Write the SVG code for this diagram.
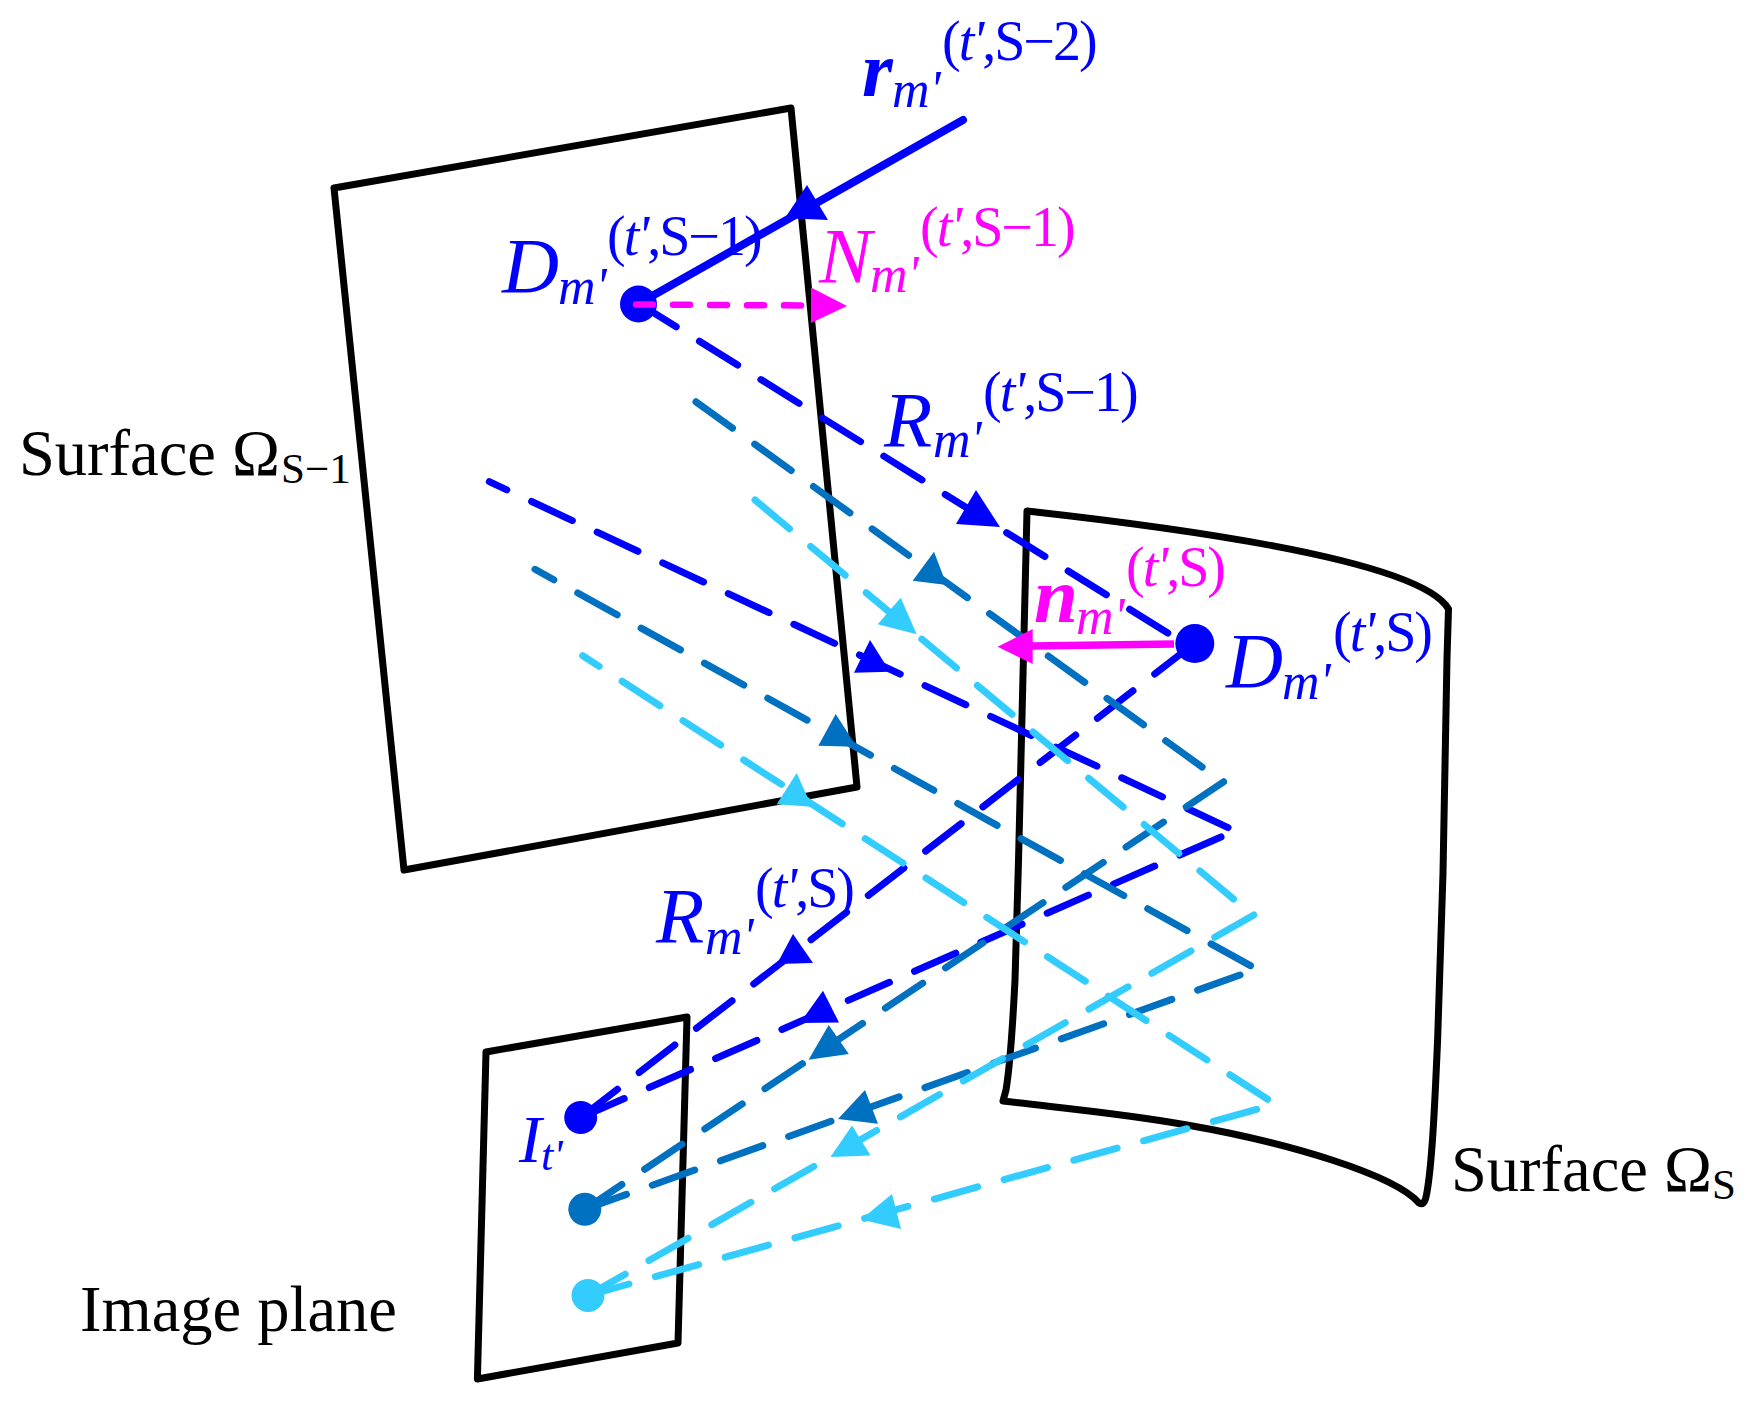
<svg xmlns="http://www.w3.org/2000/svg" width="1760" height="1402" viewBox="0 0 1760 1402">
<style>
text{font-family:"Liberation Serif","Times New Roman",serif}
.big{font-size:64.5px;fill:#000}
.sub{font-size:43px;fill:#000}
.m{font-size:79px;font-style:italic}
.mb{font-size:79px;font-style:italic;font-weight:bold}
.s{font-size:56px;letter-spacing:-2px}
.sm{font-size:52px;font-style:italic}
.i{font-style:italic}
.blue{fill:#0000ff}
.mag{fill:#ff00ff}
.surf{fill:none;stroke:#000;stroke-width:7;stroke-linejoin:round}
.ray{fill:none;stroke-width:7;stroke-linecap:round;stroke-dasharray:45 27.4}
.b{stroke:#0000ff}.t{stroke:#0070c0}.l{stroke:#33ccff}
.fb{fill:#0000ff}.ft{fill:#0070c0}.fl{fill:#33ccff}.fm{fill:#ff00ff}
</style>
<rect width="1760" height="1402" fill="#fff"/>
<g id="surface-s1"><path class="surf" d="M334 188L791 108L857 787L404 870Z"/></g>
<g id="surface-s"><path class="surf" d="M1027 511C1180 528 1420 560 1448.5 609L1447 658L1443 873L1437.6 1040C1435 1100 1432 1170 1426 1197Q1424 1206 1419 1203C1395 1175 1290 1143 1187 1125C1120 1113 1060 1108 1003 1101L1006 1090C1011 1060 1013 1020 1015 980C1020 820 1024 650 1027 511Z"/></g>
<g id="image-plane"><path class="surf" d="M486 1052L687 1017L678 1343L477.4 1379Z"/></g>
<g id="connectors">
<line x1="963" y1="120" x2="638" y2="304" stroke="#0000ff" stroke-width="8" stroke-linecap="round"/>
<polygon class="fb" points="807,185 785,218 828,220"/>
<line class="ray b" x1="638" y1="303" x2="1195" y2="650"/>
<polygon class="fb" points="976,490 956,524 1000,527"/>
<line class="ray b" x1="1190.3" y1="646.5" x2="581" y2="1117.5"/>
<polygon class="fb" points="793,934 777,964 813,963"/>
<line class="ray b" x1="489.3" y1="481.7" x2="1229" y2="828" stroke-dashoffset="25.7"/>
<polygon class="fb" points="870,640 854,672.7 890,671.7"/>
<line class="ray b" x1="1221" y1="837" x2="581" y2="1117.5"/>
<polygon class="fb" points="823,990.7 800,1023 839,1022.5"/>
<line class="ray t" x1="696" y1="401.8" x2="1224" y2="782.8"/>
<polygon class="ft" points="934,551.7 912.7,580.7 946.7,585"/>
<line class="ray t" x1="1223.6" y1="781.8" x2="584.8" y2="1209.3"/>
<polygon class="ft" points="828.7,1025 808.6,1059.8 848.8,1054"/>
<line class="ray t" x1="535" y1="569.3" x2="1251" y2="966" stroke-dashoffset="23.5"/>
<polygon class="ft" points="835.7,714 818.3,745.7 856.7,746.7"/>
<line class="ray t" x1="1240" y1="975" x2="584.8" y2="1209.3"/>
<polygon class="ft" points="865,1090 838,1119 878,1123.7"/>
<line class="ray l" x1="755" y1="500" x2="1233.5" y2="899"/>
<polygon class="fl" points="900.7,597.7 877.7,624.3 916.7,634.3"/>
<line class="ray l" x1="1253.8" y1="915" x2="588" y2="1295.4"/>
<polygon class="fl" points="852,1125.5 830.5,1157 870.6,1155.5"/>
<line class="ray l" x1="582.7" y1="655.7" x2="1267.7" y2="1099.3" stroke-dashoffset="25.4"/>
<polygon class="fl" points="796.7,773 776.7,804.3 811.7,806.7"/>
<line class="ray l" x1="1256.7" y1="1109.3" x2="588" y2="1295.4"/>
<polygon class="fl" points="892,1194 861,1219.5 901,1229"/>
</g>
<g id="dot-d1"><circle class="fb" cx="638.5" cy="304" r="18.5"/></g>
<g id="dot-d2"><circle class="fb" cx="1194.8" cy="643.6" r="19.5"/></g>
<g id="dot-i1"><circle class="fb" cx="580.7" cy="1117.5" r="16.5"/></g>
<g id="dot-i2"><circle class="ft" cx="584.8" cy="1209.3" r="16.5"/></g>
<g id="dot-i3"><circle class="fl" cx="588" cy="1295.4" r="16.5"/></g>
<g id="normals">
<line x1="636" y1="304.5" x2="807" y2="305.5" stroke="#ff00ff" stroke-width="6.5" stroke-linecap="round" stroke-dasharray="17 20"/>
<polygon class="fm" points="811,287.5 847,306 811,323"/>
<line x1="1174" y1="644" x2="1031" y2="646" stroke="#ff00ff" stroke-width="7.5"/>
<polygon class="fm" points="997.6,646.8 1032.7,629 1032.7,664"/>
</g>
<g id="labels">
<text class="big" x="19" y="475">Surface Ω</text><text class="sub" x="281" y="483">S−1</text>
<text class="big" x="1451" y="1191">Surface Ω</text><text class="sub" x="1712" y="1199">S</text>
<text class="big" x="80" y="1331">Image plane</text>

<text class="mb blue" x="862" y="96">r</text><text class="sm blue" x="892" y="107">m'</text>
<text class="s blue" x="942" y="60">(<tspan class="i">t'</tspan>,S−2)</text>

<text class="m blue" x="502" y="292">D</text><text class="sm blue" x="558" y="304">m'</text>
<text class="s blue" x="607" y="255">(<tspan class="i">t'</tspan>,S−1)</text>

<text class="m mag" x="819" y="282">N</text><text class="sm mag" x="870" y="292">m'</text>
<text class="s mag" x="920" y="246">(<tspan class="i">t'</tspan>,S−1)</text>

<text class="m blue" x="884" y="446">R</text><text class="sm blue" x="933" y="457">m'</text>
<text class="s blue" x="983" y="411">(<tspan class="i">t'</tspan>,S−1)</text>

<text class="mb mag" x="1034" y="622">n</text><text class="sm mag" x="1076" y="634">m'</text>
<text class="s mag" x="1126" y="586">(<tspan class="i">t'</tspan>,S)</text>

<text class="m blue" x="1226" y="687">D</text><text class="sm blue" x="1282" y="699">m'</text>
<text class="s blue" x="1333" y="651">(<tspan class="i">t'</tspan>,S)</text>

<text class="m blue" x="656" y="942">R</text><text class="sm blue" x="705" y="954">m'</text>
<text class="s blue" x="755" y="907">(<tspan class="i">t'</tspan>,S)</text>

<text class="blue i" style="font-size:68px" x="519" y="1162">I</text><text class="blue i" style="font-size:44px" x="541" y="1170">t'</text>
</g>
</svg>
